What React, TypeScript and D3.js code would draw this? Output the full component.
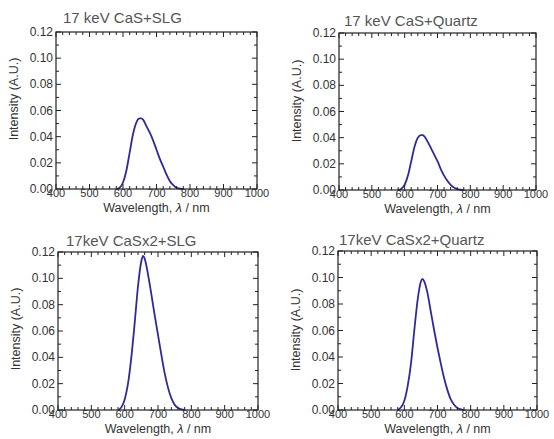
import React from 'react';
import * as d3 from 'd3';

// wavelength grid (nm) shared by all four spectra
const wavelengths = [580, 590, 600, 610, 620, 630, 640, 650, 655, 660, 670, 680, 690, 700, 710, 720, 730, 740, 750, 760, 770, 780];

const casSLG = [0, 0.001, 0.005, 0.014, 0.028, 0.042, 0.051, 0.054, 0.054, 0.053, 0.048, 0.043, 0.037, 0.030, 0.023, 0.017, 0.011, 0.006, 0.003, 0.001, 0.0003, 0];
const casQuartz = [0, 0.001, 0.004, 0.011, 0.022, 0.033, 0.040, 0.042, 0.042, 0.041, 0.037, 0.032, 0.027, 0.022, 0.016, 0.011, 0.007, 0.004, 0.002, 0.0007, 0.0002, 0];
const casx2SLG = [0, 0.002, 0.008, 0.020, 0.040, 0.066, 0.094, 0.113, 0.117, 0.115, 0.103, 0.088, 0.072, 0.057, 0.042, 0.028, 0.017, 0.009, 0.004, 0.0015, 0.0005, 0];
const casx2Quartz = [0, 0.002, 0.007, 0.018, 0.035, 0.060, 0.083, 0.097, 0.099, 0.097, 0.088, 0.074, 0.060, 0.047, 0.035, 0.024, 0.015, 0.008, 0.004, 0.0015, 0.0005, 0];

const titles = ['17 keV CaS+SLG', '17 keV CaS+Quartz', '17keV CaSx2+SLG', '17keV CaSx2+Quartz'];
const series = [casSLG, casQuartz, casx2SLG, casx2Quartz];

const xTicks = [400, 500, 600, 700, 800, 900, 1000];
const yTicks = [0, 0.02, 0.04, 0.06, 0.08, 0.1, 0.12];

// frame boxes of the four panels
const panels = [
  { x0: 56, x1: 257, y0: 32, y1: 189, tx: 63, ty: 23, ly: 99 },
  { x0: 339, x1: 536, y0: 33, y1: 190, tx: 344, ty: 26, ly: 101 },
  { x0: 58, x1: 258, y0: 252, y1: 410, tx: 66, ty: 246, ly: 329 },
  { x0: 338, x1: 537, y0: 251, y1: 410, tx: 339, ty: 245, ly: 330 },
];

const font = 'Liberation Sans, Arial, sans-serif';

function Panel({ p, title, values }) {
  const x = d3.scaleLinear().domain([400, 1000]).range([p.x0, p.x1]);
  const y = d3.scaleLinear().domain([0, 0.12]).range([p.y1, p.y0]);

  const line = d3.line()
    .x((d) => x(d[0]))
    .y((d) => y(d[1]))
    .curve(d3.curveMonotoneX);
  const pts = wavelengths.map((w, i) => [w, values[i]]);

  const xMinor = d3.range(400, 1001, 20);
  const yMinor = d3.range(0, 0.1201, 0.01);

  return (
    <g>
      <text x={p.tx} y={p.ty} fontSize={15} fill="#555" fontFamily={font}>{title}</text>
      <path d={line(pts)} fill="none" stroke="#2e2a9a" strokeWidth={1.8} />
      {/* minor + major ticks, inward on all sides */}
      {xMinor.map((v) => {
        const major = Math.round(v) % 100 === 0;
        const len = major ? 5 : 3;
        return (
          <g key={'x' + v}>
            <line x1={x(v)} x2={x(v)} y1={p.y1} y2={p.y1 - len} stroke="#222" />
            <line x1={x(v)} x2={x(v)} y1={p.y0} y2={p.y0 + len} stroke="#222" />
          </g>
        );
      })}
      {yMinor.map((v, i) => {
        const len = i % 2 === 0 ? 5 : 3;
        return (
          <g key={'y' + i}>
            <line x1={p.x0} x2={p.x0 + len} y1={y(v)} y2={y(v)} stroke="#222" />
            <line x1={p.x1} x2={p.x1 - len} y1={y(v)} y2={y(v)} stroke="#222" />
          </g>
        );
      })}
      <rect x={p.x0} y={p.y0} width={p.x1 - p.x0} height={p.y1 - p.y0} fill="none" stroke="#222" strokeWidth={1.2} />
      {xTicks.map((v) => (
        <text key={'xl' + v} x={x(v)} y={p.y1 + 8} fontSize={11} textAnchor="middle" fill="#333" fontFamily={font}>{v}</text>
      ))}
      {yTicks.map((v) => (
        <text key={'yl' + v} x={p.x0 - 3} y={y(v) + 4} fontSize={12} textAnchor="end" fill="#333" fontFamily={font}>{v.toFixed(2)}</text>
      ))}
      <text x={(p.x0 + p.x1) / 2} y={p.y1 + 23} fontSize={12.5} textAnchor="middle" fill="#333" fontFamily={font}>
        Wavelength, <tspan fontStyle="italic">λ</tspan> / nm
      </text>
      <text transform={`translate(${p.x0 - 38},${p.ly}) rotate(-90)`} fontSize={12.5} textAnchor="middle" fill="#333" fontFamily={font}>
        Intensity (A.U.)
      </text>
    </g>
  );
}

export default function App() {
  return (
    <div style={{ position: 'absolute', left: 0, top: 0 }}>
      <svg width={554} height={439} style={{ display: 'block', background: '#fff' }}>
        {panels.map((p, i) => (
          <Panel key={i} p={p} title={titles[i]} values={series[i]} />
        ))}
      </svg>
    </div>
  );
}
